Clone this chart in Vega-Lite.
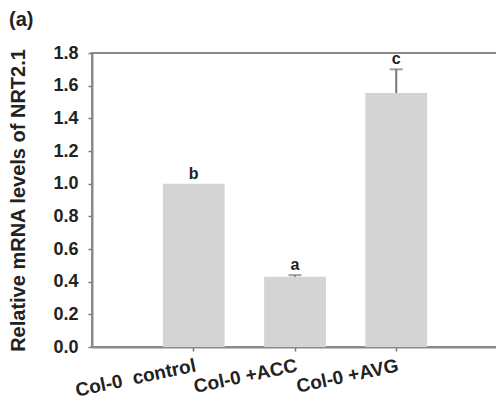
{
  "$schema": "https://vega.github.io/schema/vega-lite/v6.json",
  "autosize": "none",
  "padding": {"left": 92, "top": 53, "right": 0, "bottom": 72},
  "width": 406,
  "height": 294,
  "background": "white",
  "title": {"text": "(a)", "anchor": "start", "frame": "bounds", "offset": 14, "font": "Liberation Sans", "fontSize": 20, "fontWeight": "bold", "color": "#222", "dx": 0},
  "config": {
    "view": {"stroke": "#8a8a8a", "strokeWidth": 2},
    "font": "Liberation Sans",
    "axisY": {
      "titleFontSize": 20, "titleFontWeight": "bold", "titleColor": "#222", "titlePadding": 24,
      "grid": false, "labelOverlap": false,
      "labelFontSize": 18, "labelFontWeight": "bold", "labelColor": "#222", "labelPadding": 10,
      "tickSize": 4, "tickColor": "#777", "tickWidth": 1.5,
      "domainColor": "#8a8a8a", "domainWidth": 2
    }
  },
  "data": {
    "values": [
      {"group": "Col-0\u00a0 control", "value": 1.0, "err_hi": 1.0, "letter": "b"},
      {"group": "Col-0 +ACC", "value": 0.43, "err_hi": 0.44, "letter": "a"},
      {"group": "Col-0 +AVG", "value": 1.555, "err_hi": 1.70, "letter": "c"}
    ]
  },
  "encoding": {
    "x": {
      "field": "group", "type": "nominal", "sort": null,
      "scale": {"paddingInner": 0.39, "paddingOuter": 0.7},
      "axis": {
        "title": null, "labelAngle": -12, "labelAlign": "right", "labelBaseline": "top",
        "labelFontSize": 19, "labelFontWeight": "bold", "labelColor": "#222",
        "labelPadding": 5, "tickSize": 4, "tickColor": "#777", "tickWidth": 1.5,
        "domainColor": "#8a8a8a", "domainWidth": 2, "labelOverlap": false, "labelBound": false
      }
    }
  },
  "layer": [
    {
      "mark": {"type": "bar", "color": "#d4d4d4"},
      "encoding": {
        "y": {
          "field": "value", "type": "quantitative",
          "scale": {"domain": [0, 1.8], "nice": false},
          "axis": {"title": "Relative mRNA levels of NRT2.1", "values": [0, 0.2, 0.4, 0.6, 0.8, 1.0, 1.2, 1.4, 1.6, 1.8], "format": ".1f"}
        }
      }
    },
    {
      "transform": [{"filter": "datum.err_hi > datum.value"}],
      "mark": {"type": "rule", "color": "#777", "strokeWidth": 2},
      "encoding": {
        "y": {"field": "value", "type": "quantitative", "axis": {"title": "Relative mRNA levels of NRT2.1", "values": [0, 0.2, 0.4, 0.6, 0.8, 1.0, 1.2, 1.4, 1.6, 1.8], "format": ".1f"}},
        "y2": {"field": "err_hi"}
      }
    },
    {
      "transform": [{"filter": "datum.err_hi > datum.value"}],
      "mark": {"type": "tick", "color": "#777", "thickness": 2, "size": 13, "orient": "horizontal"},
      "encoding": {"y": {"field": "err_hi", "type": "quantitative", "axis": {"title": "Relative mRNA levels of NRT2.1", "values": [0, 0.2, 0.4, 0.6, 0.8, 1.0, 1.2, 1.4, 1.6, 1.8], "format": ".1f"}}}
    },
    {
      "mark": {"type": "text", "baseline": "bottom", "dy": -2, "fontSize": 16, "fontWeight": "bold", "color": "#222"},
      "encoding": {"y": {"field": "err_hi", "type": "quantitative", "axis": {"title": "Relative mRNA levels of NRT2.1", "values": [0, 0.2, 0.4, 0.6, 0.8, 1.0, 1.2, 1.4, 1.6, 1.8], "format": ".1f"}}, "text": {"field": "letter"}}
    }
  ]
}
